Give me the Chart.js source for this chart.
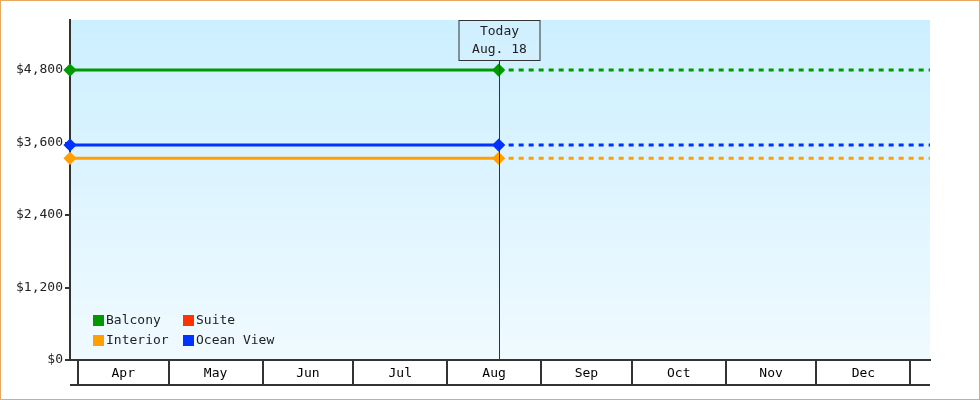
<!DOCTYPE html>
<html><head><meta charset="utf-8">
<script src="https://cdn.jsdelivr.net/npm/chart.js@4/dist/chart.umd.min.js"></script>
<style>html,body{margin:0;padding:0;background:#fff}#w{width:978px;height:398px;border:1px solid #e8a860;position:relative}</style>
</head><body><div id="w"><canvas id="c" width="978" height="398"></canvas></div>
<script>
// days measured from Apr 1
const months = ['Apr','May','Jun','Jul','Aug','Sep','Oct','Nov','Dec'];
const monthStarts = [0,30,61,91,122,153,183,214,244,275];
const xMin = -2.6, xMax = 281.5, todayDay = 139;
const todayLabel = ['Today','Aug. 18'];
const seriesNames = ['Balcony','Suite','Interior','Ocean View'];
const seriesColors = ['#009900','#ff3300','#ffa000','#0033ff'];
const seriesValues = [4800, null, 3340, 3560];
const yTicks = [0,1200,2400,3600,4800];
const F = '"DejaVu Sans Mono", monospace';

const datasets = [];
seriesNames.forEach((n,i)=>{
  if (seriesValues[i]===null) return;
  datasets.push({label:n, data:[{x:xMin,y:seriesValues[i]},{x:todayDay,y:seriesValues[i]}],
    borderColor:seriesColors[i], backgroundColor:seriesColors[i], borderWidth:3,
    pointStyle:'rectRot', pointRadius:4.5, pointHoverRadius:4.5, clip:false});
  datasets.push({label:n+' proj', data:[{x:todayDay,y:seriesValues[i]},{x:xMax,y:seriesValues[i]}],
    borderColor:seriesColors[i], borderWidth:3, borderDash:[5,5], pointRadius:0});
});

const deco = {
  id:'deco',
  beforeDraw(ch){
    const {ctx, chartArea:a} = ch;
    const g = ctx.createLinearGradient(0,a.top,0,a.bottom);
    g.addColorStop(0,'#ccefff'); g.addColorStop(1,'#f0faff');
    ctx.save(); ctx.fillStyle=g; ctx.fillRect(a.left,a.top,a.right-a.left,a.bottom-a.top); ctx.restore();
  },
  afterDatasetsDraw(ch){
    const {ctx, chartArea:a, scales:{x}} = ch;
    ctx.save();
    ctx.strokeStyle='#333'; ctx.lineWidth=2;
    ctx.beginPath(); ctx.moveTo(a.left,a.bottom+25); ctx.lineTo(a.right,a.bottom+25); ctx.stroke();
    ctx.fillStyle='#000'; ctx.font='13px '+F; ctx.textAlign='center'; ctx.textBaseline='middle';
    months.forEach((m,i)=>{
      const px = (x.getPixelForValue(monthStarts[i])+x.getPixelForValue(monthStarts[i+1]))/2;
      ctx.fillText(m, px, a.bottom+14);
    });
    const tx = Math.round(x.getPixelForValue(todayDay))+0.5;
    ctx.strokeStyle='#333'; ctx.lineWidth=1;
    ctx.beginPath(); ctx.moveTo(tx,a.top+40); ctx.lineTo(tx,a.bottom); ctx.stroke();
    ctx.fillStyle='rgba(210,240,255,0.9)';
    ctx.fillRect(tx-41,a.top,82,40);
    ctx.strokeRect(tx-40.5,a.top+0.5,81,40);
    ctx.fillStyle='#222';
    ctx.fillText(todayLabel[0],tx,a.top+12);
    ctx.fillText(todayLabel[1],tx,a.top+30);
    ctx.textAlign='left';
    seriesNames.forEach((n,i)=>{
      const col=i%2, row=Math.floor(i/2);
      const bx=a.left+23+col*90, by=a.bottom-45+row*20;
      ctx.fillStyle=seriesColors[i]; ctx.fillRect(bx,by,11,11);
      ctx.fillStyle='#222'; ctx.fillText(n,bx+13,by+6);
    });
    ctx.restore();
  }
};

new Chart(document.getElementById('c'),{
  type:'line',
  data:{datasets},
  plugins:[deco],
  options:{
    responsive:false, animation:false, events:[],
    layout:{padding:{top:19,right:49,left:0,bottom:0}},
    plugins:{legend:{display:false},tooltip:{enabled:false}},
    scales:{
      x:{type:'linear',min:xMin,max:xMax,
        afterBuildTicks(s){s.ticks=monthStarts.map(v=>({value:v}));},
        afterFit(s){s.height=39;},
        border:{display:true,color:'#333',width:2},
        grid:{drawOnChartArea:false,drawTicks:true,tickLength:25,color:'#333',lineWidth:2},
        ticks:{display:true,callback:()=>'',padding:0}},
      y:{min:0,max:5630,
        afterBuildTicks(s){s.ticks=yTicks.map(v=>({value:v}));},
        afterFit(s){s.width=69;},
        border:{display:true,color:'#333',width:2},
        grid:{drawOnChartArea:false,tickLength:5,color:'#333',lineWidth:2},
        ticks:{color:'#222',font:{family:F,size:13},padding:2,
          callback:v=>'$'+v.toLocaleString('en-US')}}
    }
  }
});
</script></body></html>
